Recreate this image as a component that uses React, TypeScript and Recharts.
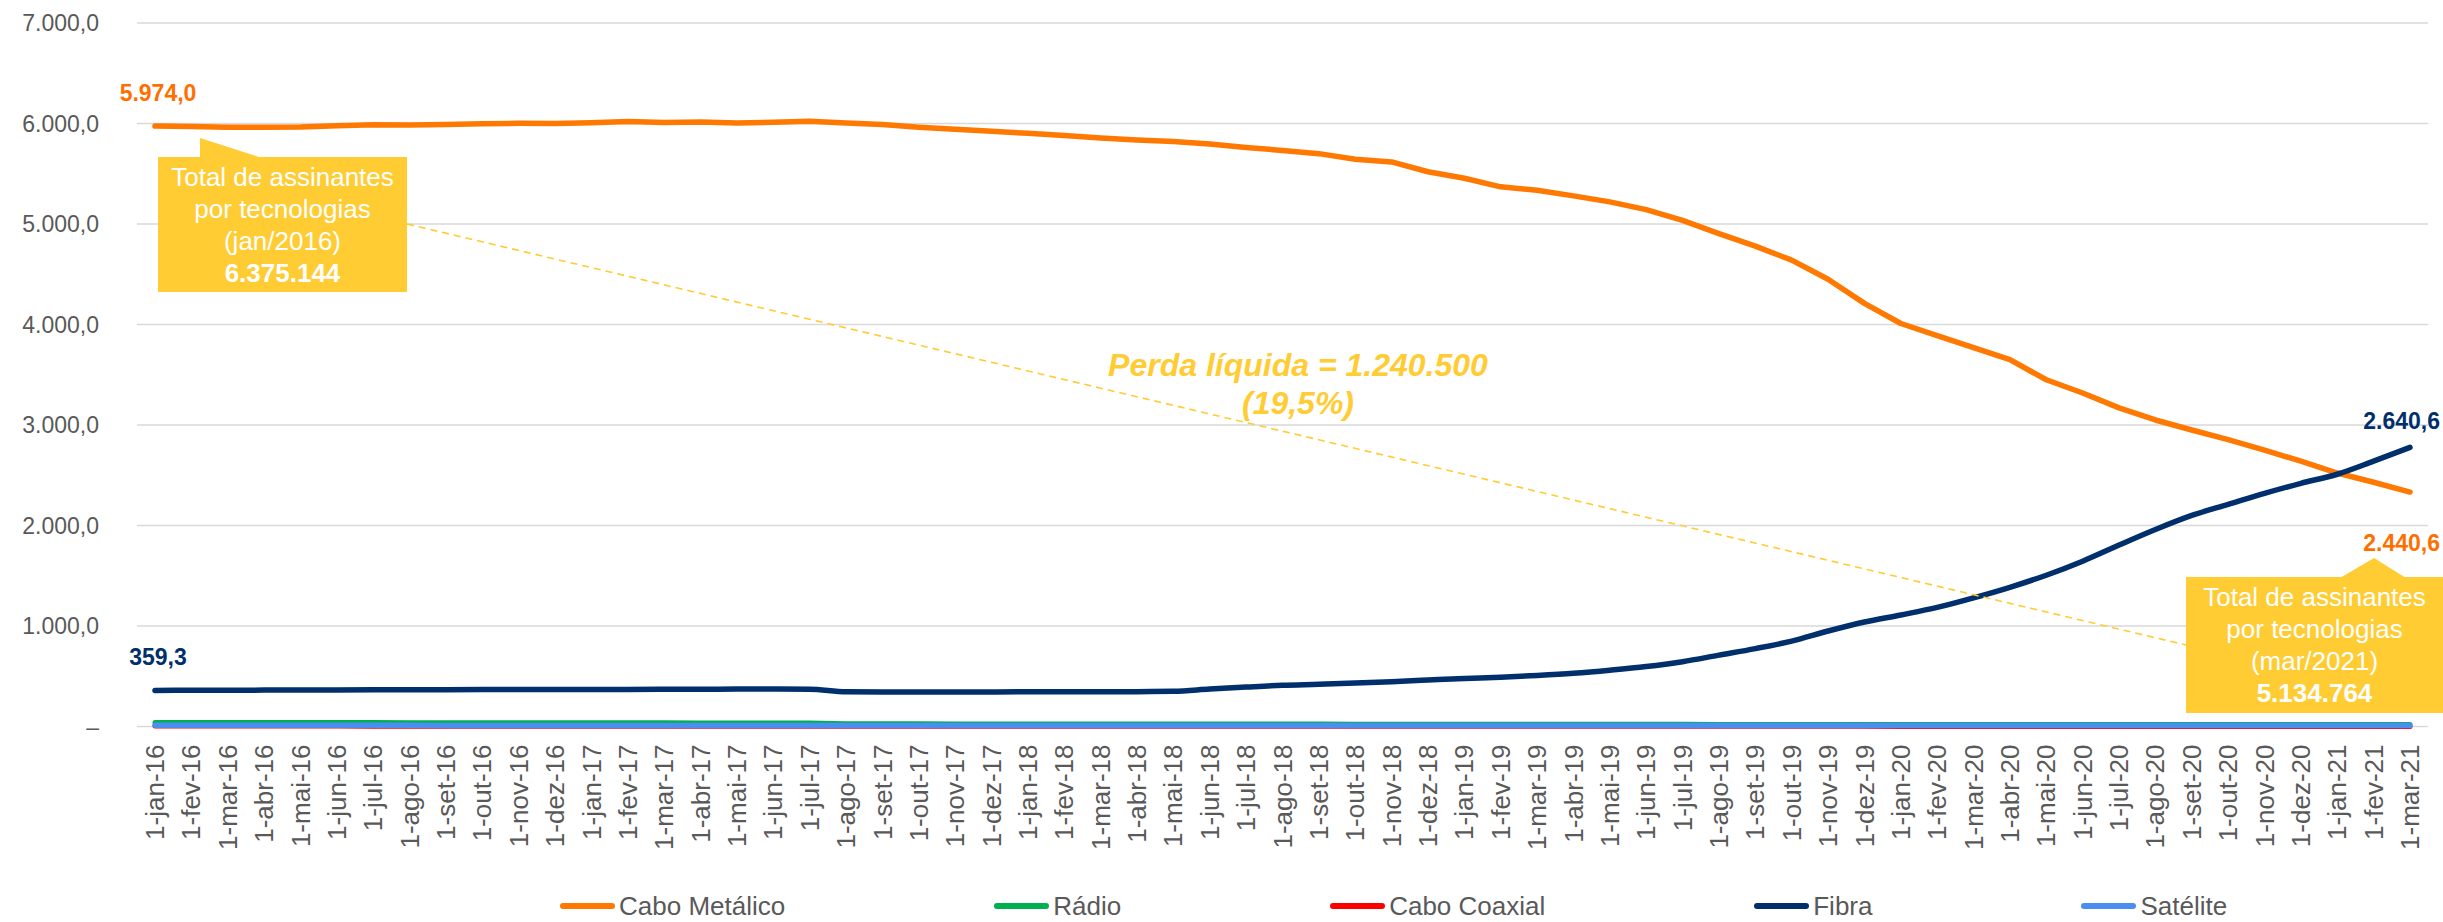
import React from 'react';
import { LineChart, Line, XAxis, YAxis, CartesianGrid } from 'recharts';

// months (category axis)
const meses = [
  '1-jan-16', '1-fev-16', '1-mar-16', '1-abr-16', '1-mai-16', '1-jun-16', '1-jul-16', '1-ago-16', '1-set-16', '1-out-16', '1-nov-16', '1-dez-16',
  '1-jan-17', '1-fev-17', '1-mar-17', '1-abr-17', '1-mai-17', '1-jun-17', '1-jul-17', '1-ago-17', '1-set-17', '1-out-17', '1-nov-17', '1-dez-17',
  '1-jan-18', '1-fev-18', '1-mar-18', '1-abr-18', '1-mai-18', '1-jun-18', '1-jul-18', '1-ago-18', '1-set-18', '1-out-18', '1-nov-18', '1-dez-18',
  '1-jan-19', '1-fev-19', '1-mar-19', '1-abr-19', '1-mai-19', '1-jun-19', '1-jul-19', '1-ago-19', '1-set-19', '1-out-19', '1-nov-19', '1-dez-19',
  '1-jan-20', '1-fev-20', '1-mar-20', '1-abr-20', '1-mai-20', '1-jun-20', '1-jul-20', '1-ago-20', '1-set-20', '1-out-20', '1-nov-20', '1-dez-20',
  '1-jan-21', '1-fev-21', '1-mar-21',
];

// subscribers, thousands
const caboMetalico = [
  5974, 5970, 5962, 5962, 5965, 5978, 5988, 5985, 5990, 5998, 6002, 6000,
  6008, 6020, 6010, 6016, 6006, 6012, 6022, 6004, 5990, 5962, 5942, 5922,
  5902, 5880, 5855, 5835, 5822, 5795, 5762, 5732, 5700, 5645, 5618, 5520,
  5455, 5370, 5335, 5280, 5220, 5143, 5036, 4905, 4780, 4640, 4450, 4210,
  4010, 3890, 3770, 3650, 3450, 3318, 3170, 3050, 2950, 2854, 2750, 2640,
  2522, 2430, 2333,
];
const radio = [
  40, 40, 40, 39, 39, 39, 39, 38, 38, 38, 38, 38,
  37, 37, 37, 36, 36, 36, 35, 28, 27, 27, 26, 26,
  26, 25, 25, 25, 25, 24, 24, 24, 24, 23, 23, 23,
  23, 23, 22, 22, 22, 22, 22, 21, 21, 21, 21, 21,
  21, 20, 20, 20, 20, 20, 20, 20, 20, 20, 19, 19,
  19, 19, 19,
];
const caboCoaxial = [
  4, 4, 4, 4, 4, 4, 3, 3, 3, 3, 3, 3,
  3, 3, 3, 3, 3, 3, 3, 2, 2, 2, 2, 2,
  2, 2, 2, 2, 2, 2, 2, 2, 2, 2, 2, 2,
  2, 2, 2, 2, 2, 2, 2, 2, 2, 2, 2, 2,
  1, 1, 1, 1, 1, 1, 1, 1, 1, 1, 1, 1,
  1, 1, 1,
];
const fibra = [
  359, 360, 360, 362, 363, 364, 365, 365, 366, 367, 368, 368,
  369, 369, 370, 371, 372, 372, 370, 345, 343, 343, 344, 344,
  345, 345, 346, 347, 350, 372, 392, 410, 420, 432, 446, 462,
  478, 490, 508, 530, 560, 596, 645, 710, 775, 850, 950, 1040,
  1110, 1185, 1280, 1385, 1505, 1645, 1805, 1960, 2100, 2210, 2320, 2420,
  2510, 2640, 2777,
];
const satelite = [
  12, 12, 12, 12, 12, 12, 12, 12, 11, 11, 11, 11,
  11, 11, 11, 11, 11, 11, 11, 10, 10, 10, 10, 10,
  10, 10, 10, 10, 10, 10, 10, 10, 10, 10, 10, 10,
  10, 10, 10, 10, 10, 10, 10, 10, 10, 10, 10, 10,
  9, 9, 9, 9, 9, 9, 9, 9, 9, 9, 9, 9,
  9, 9, 9,
];

const yTicks = [0, 1000, 2000, 3000, 4000, 5000, 6000, 7000];

const series = [
  { key: 'metal', name: 'Cabo Metálico', color: '#FF7800', values: caboMetalico, curve: 'linear' },
  { key: 'radio', name: 'Rádio', color: '#00B050', values: radio, curve: 'linear' },
  { key: 'coax', name: 'Cabo Coaxial', color: '#FF0000', values: caboCoaxial, curve: 'linear' },
  { key: 'fibra', name: 'Fibra', color: '#002F6C', values: fibra, curve: 'monotone' },
  { key: 'sat', name: 'Satélite', color: '#4A8EF2', values: satelite, curve: 'linear' },
];

// end-point labels typed as in the original
const metalLabels = { first: '5.974,0', last: '2.440,6' };
const fibraLabels = { first: '359,3', last: '2.640,6' };

const data = meses.map((mes, i) => {
  const row: any = { mes };
  series.forEach((s) => { row[s.key] = s.values[i]; });
  return row;
});

const FONT = '"Liberation Sans", Arial, sans-serif';
const GOLD = '#FFCC33';

const fmt = (v: number) => {
  if (v === 0) return '–';
  const s = v.toFixed(1).replace('.', ',');
  const [int, dec] = s.split(',');
  return int.replace(/\B(?=(\d{3})+(?!\d))/g, '.') + ',' + dec;
};

const XTick = ({ x, y, payload }: any) => (
  <text
    x={x}
    y={y + 10}
    transform={`rotate(-90, ${x}, ${y + 10})`}
    textAnchor="end"
    dy="0.35em"
    fontSize={26}
    fontFamily={FONT}
    fill="#595959"
  >
    {payload.value}
  </text>
);

const makeLabel = (color: string, labels: { first: string; last: string }, firstDy: number, lastDy: number) =>
  (props: any) => {
    const { x, y, index } = props;
    if (index === 0) {
      return (
        <text x={x + 3} y={y + firstDy} textAnchor="middle" dy="0.35em" fontSize={23} fontWeight="bold" fontFamily={FONT} fill={color}>
          {labels.first}
        </text>
      );
    }
    if (index === meses.length - 1) {
      return (
        <text x={x + 30} y={y + lastDy} textAnchor="end" dy="0.35em" fontSize={23} fontWeight="bold" fontFamily={FONT} fill={color}>
          {labels.last}
        </text>
      );
    }
    return <g />;
  };

const Callout = ({ x, y, w, h, lines, total }: any) => {
  const cx = x + w / 2;
  return (
    <g>
      <rect x={x} y={y} width={w} height={h} fill={GOLD} />
      {lines.map((t: string, i: number) => (
        <text key={t} x={cx} y={y + 20 + i * 32} dy="0.35em" textAnchor="middle" fontSize={26} fill="#fff" fontFamily={FONT}>
          {t}
        </text>
      ))}
      <text x={cx} y={y + 20 + lines.length * 32} dy="0.35em" textAnchor="middle" fontSize={26} fontWeight="bold" fill="#fff" fontFamily={FONT}>
        {total}
      </text>
    </g>
  );
};

export default function App() {
  return (
    <div style={{ position: 'absolute', left: 0, top: 0, width: 2443, height: 922, background: '#fff', fontFamily: FONT }}>
      <LineChart width={2443} height={922} data={data} margin={{ top: 23, right: 15, bottom: 0, left: 0 }}>
        <CartesianGrid vertical={false} stroke="#D9D9D9" strokeWidth={1.5} />
        <XAxis
          dataKey="mes"
          interval={0}
          height={195.5}
          axisLine={false}
          tickLine={false}
          padding={{ left: 18, right: 18 }}
          tick={<XTick />}
        />
        <YAxis
          width={137}
          domain={[0, 7000]}
          ticks={yTicks}
          axisLine={false}
          tickLine={false}
          tickMargin={32}
          tickFormatter={fmt}
          tick={{ fontSize: 23, fill: '#595959', fontFamily: FONT }}
        />
        {series.map((s) => (
          <Line
            key={s.key}
            dataKey={s.key}
            name={s.name}
            type={s.curve as any}
            stroke={s.color}
            strokeWidth={s.key === 'radio' || s.key === 'coax' ? 5 : 5.5}
            strokeLinecap="round"
            strokeLinejoin="round"
            dot={false}
            activeDot={false}
            isAnimationActive={false}
            label={
              s.key === 'metal'
                ? makeLabel('#FF6F00', metalLabels, -33, 51)
                : s.key === 'fibra'
                ? makeLabel('#002F6C', fibraLabels, -33, -26)
                : undefined
            }
          />
        ))}
      </LineChart>

      {/* annotations */}
      <svg width={2443} height={922} style={{ position: 'absolute', left: 0, top: 0, pointerEvents: 'none' }}>
        <line x1={407} y1={224} x2={2186} y2={645} stroke={GOLD} strokeWidth={1.6} strokeDasharray="7 5" />
        <polygon points="200,138 200,158 262,158" fill={GOLD} />
        <Callout x={158} y={157} w={249} h={135} lines={['Total de assinantes', 'por tecnologias', '(jan/2016)']} total="6.375.144" />
        <polygon points="2340,578 2374,558 2406,578" fill={GOLD} />
        <Callout x={2186} y={577} w={257} h={136} lines={['Total de assinantes', 'por tecnologias', '(mar/2021)']} total="5.134.764" />
        <text x={1298} y={365} dy="0.35em" textAnchor="middle" fontSize={32} fontWeight="bold" fontStyle="italic" fill={GOLD} fontFamily={FONT}>
          Perda líquida = 1.240.500
        </text>
        <text x={1298} y={403} dy="0.35em" textAnchor="middle" fontSize={32} fontWeight="bold" fontStyle="italic" fill={GOLD} fontFamily={FONT}>
          (19,5%)
        </text>
      </svg>

      {/* legend */}
      <div style={{ position: 'absolute', left: 560, top: 889, display: 'flex', alignItems: 'center', gap: 209, fontSize: 26, color: '#595959', lineHeight: '34px' }}>
        {series.map((s) => (
          <div key={s.key} style={{ display: 'flex', alignItems: 'center' }}>
            <span style={{ display: 'inline-block', width: 55, height: 6, borderRadius: 3, background: s.color, marginRight: 4 }} />
            <span>{s.name}</span>
          </div>
        ))}
      </div>
    </div>
  );
}
